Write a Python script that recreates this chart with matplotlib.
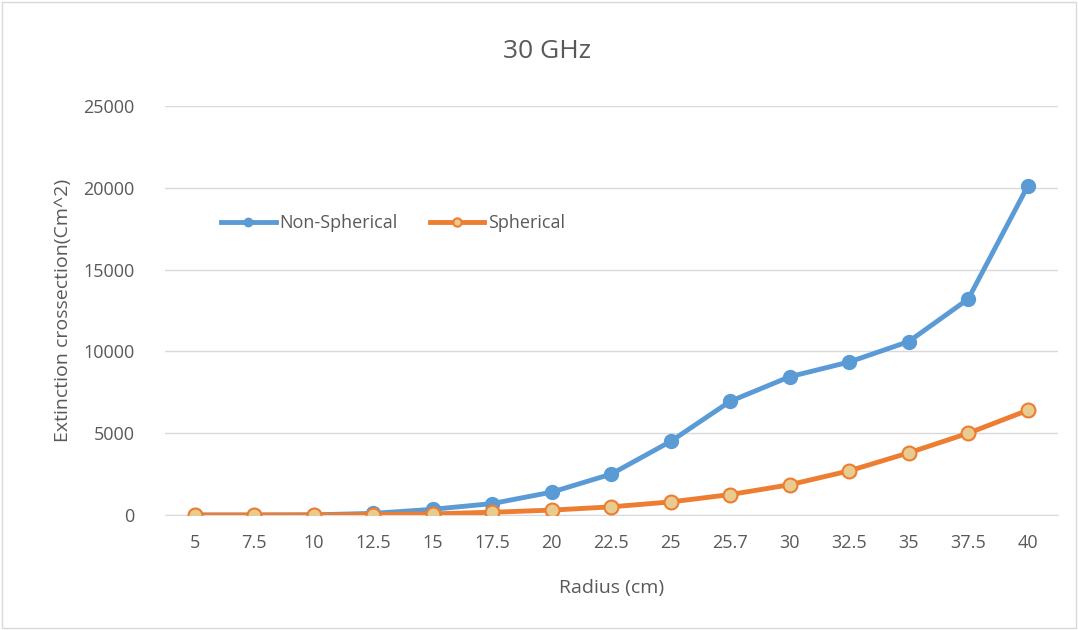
import matplotlib.pyplot as plt
import numpy as np

radius = ['5', '7.5', '10', '12.5', '15', '17.5', '20', '22.5', '25', '25.7',
          '30', '32.5', '35', '37.5', '40']
non_spherical = [0, 0, 10, 100, 350, 700, 1400, 2500, 4500, 6950,
                 8450, 9350, 10600, 13200, 20100]
spherical = [0, 0, 5, 30, 70, 170, 300, 500, 800, 1250,
             1850, 2700, 3800, 5000, 6400]

plt.rcParams['font.family'] = ['Open Sans', 'DejaVu Sans']
grey = '#595959'

fig = plt.figure(figsize=(10.78, 6.3), dpi=100)
ax = fig.add_axes([0.153, 0.1825, 0.828, 0.6495])

x = np.arange(len(radius))
ax.plot(x, non_spherical, color='#5B9BD5', linewidth=3.5, marker='o',
        markersize=10, markerfacecolor='#5B9BD5', markeredgecolor='#5B9BD5',
        label='Non-Spherical', zorder=3)
ax.plot(x, spherical, color='#ED7D31', linewidth=3.5, marker='o',
        markersize=10, markerfacecolor='#E8CB8E', markeredgecolor='#ED7D31',
        markeredgewidth=1.5, label='Spherical', zorder=4)

ax.set_xlim(-0.5, len(radius) - 0.5)
ax.set_ylim(0, 25000)
ax.set_yticks(range(0, 25001, 5000))
ax.set_xticks(x)
ax.set_xticklabels(radius)
ax.grid(axis='y', color='#D9D9D9', linewidth=1)
ax.set_axisbelow(True)
for s in ['top', 'right', 'left']:
    ax.spines[s].set_visible(False)
ax.spines['bottom'].set_color('#D9D9D9')
ax.tick_params(axis='x', length=0, labelsize=13, labelcolor=grey, pad=14)
ax.tick_params(axis='y', length=0, labelsize=13, labelcolor=grey, pad=22)

fig.text(0.507, 0.918, '30 GHz', fontsize=19, color=grey, ha='center', va='center')
ax.set_xlabel('Radius (cm)', fontsize=14, color=grey, labelpad=19)
ax.set_ylabel('Extinction crossection(Cm^2)', fontsize=14, color=grey, labelpad=8)

ax.legend(loc='upper left', bbox_to_anchor=(0.045, 0.775), ncol=2, frameon=False,
          fontsize=13, labelcolor=grey, handlelength=3, columnspacing=1.8,
          handletextpad=0.2, markerscale=0.6)

fig.patches.append(plt.Rectangle((0.002, 0.003), 0.996, 0.994, transform=fig.transFigure,
                                 fill=False, edgecolor='#D9D9D9', linewidth=1))

fig.savefig('out.png', dpi=100)
